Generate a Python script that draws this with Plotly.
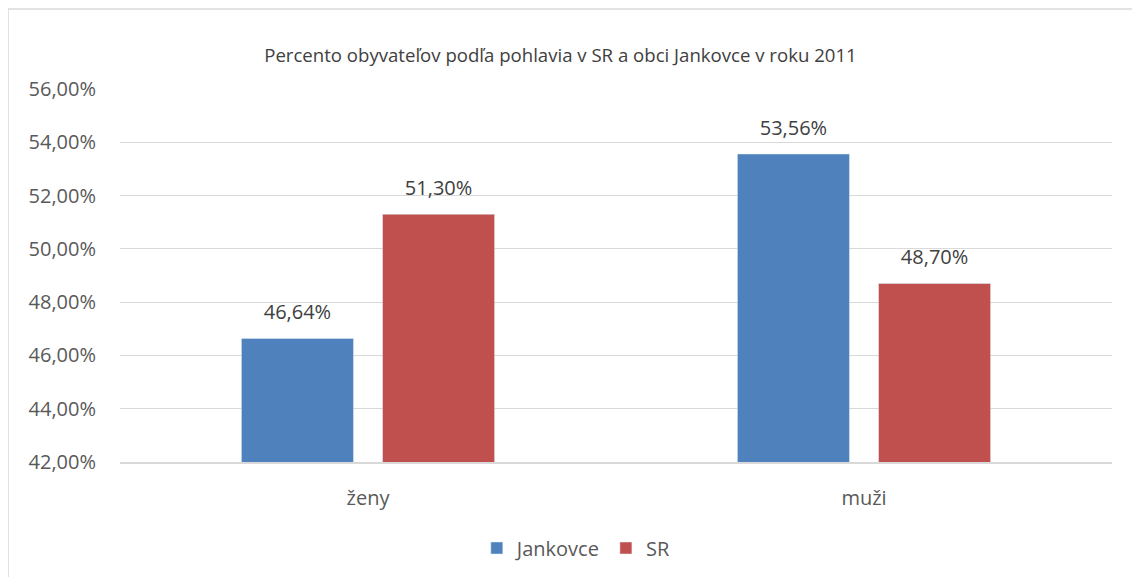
import plotly.graph_objects as go

categories = ["ženy", "muži"]
jankovce = [0.4664, 0.5356]
sr = [0.5130, 0.4870]
series_names = ["Jankovce", "SR"]
title = "Percento obyvateľov podľa pohlavia v SR a obci Jankovce v roku 2011"

FONT = "Open Sans, Calibri, sans-serif"
GREY = "#595959"
DARK = "#404040"
colors = ["#4F81BD", "#C0504D"]

fig = go.Figure()
for name, vals, col in zip(series_names, [jankovce, sr], colors):
    fig.add_trace(go.Bar(name=name, x=categories, y=vals, marker_color=col,
                         offsetgroup=name, hoverinfo="skip"))
for name, vals in zip(series_names, [jankovce, sr]):
    fig.add_trace(go.Scatter(x=categories, y=vals, mode="markers+text", offsetgroup=name,
                             texttemplate="%{y:.2%}", textposition="top center",
                             marker=dict(size=21, opacity=0), cliponaxis=False,
                             textfont=dict(size=20, color=DARK, family=FONT),
                             showlegend=False, hoverinfo="skip"))

fig.update_layout(
    width=1140, height=577,
    margin=dict(l=112, r=36, t=81, b=123),
    paper_bgcolor="white", plot_bgcolor="white",
    separators=", ",
    barmode="group", bargap=0.431, bargroupgap=0.206,
    scattermode="group", scattergap=0.431,
    font=dict(family=FONT, color=GREY, size=20),
    title=dict(text=title, x=0.4846, xanchor="center", y=0.9185, yanchor="middle",
               font=dict(size=18.6, color=DARK, family=FONT)),
    legend=dict(orientation="h", x=0.460, xanchor="center", y=-0.2306, yanchor="middle",
                font=dict(size=20, color=GREY), itemwidth=30, traceorder="normal"),
    showlegend=True,
    shapes=[dict(type="rect", xref="paper", yref="paper", x0=-0.1129, x1=1.0262,
                 y0=-0.6, y1=1.2145, line=dict(color="#D9D9D9", width=1.5), layer="below")],
)
fig.update_yaxes(range=[0.42, 0.56], dtick=0.02, tickformat=".2%", showgrid=True,
                 gridcolor="#D9D9D9", gridwidth=1, zeroline=False, ticks="",
                 ticklabelstandoff=23, tickfont=dict(size=20, color=GREY))
fig.update_xaxes(showline=True, linecolor="#D9D9D9", linewidth=1.5, ticks="",
                 ticklabelstandoff=17, tickfont=dict(size=20, color=GREY))

fig.write_html("out.html")
